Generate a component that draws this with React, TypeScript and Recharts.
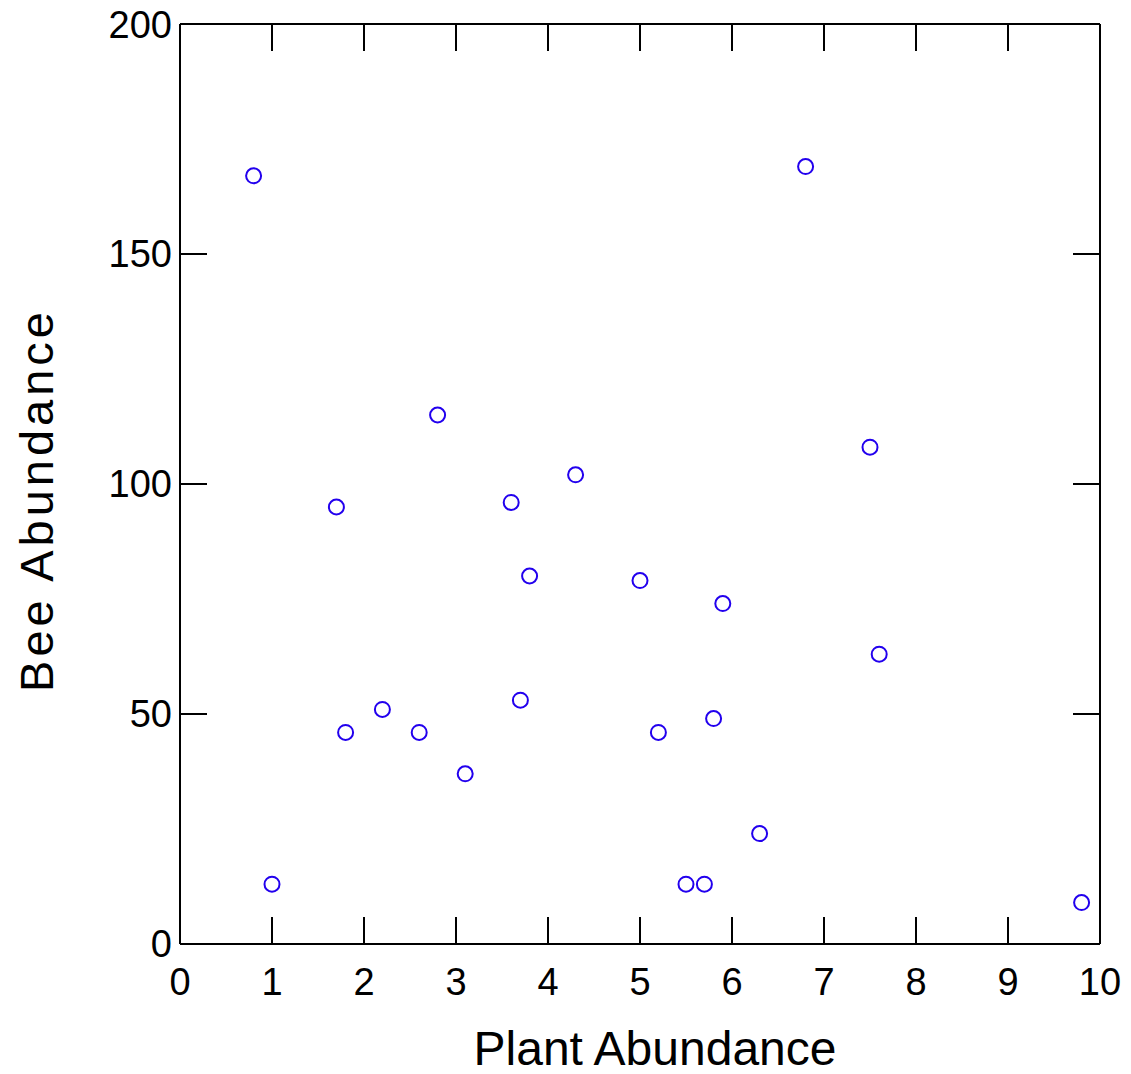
import React from 'react';
import { ScatterChart, Scatter, XAxis, YAxis, Label } from 'recharts';

const plantAbundance = [0.8, 1.0, 1.7, 1.8, 2.2, 2.6, 2.8, 3.1, 3.6, 3.7, 3.8, 4.3, 5.0, 5.2, 5.5, 5.7, 5.8, 5.9, 6.3, 6.8, 7.5, 7.6, 9.8];
const beeAbundance = [167, 13, 95, 46, 51, 46, 115, 37, 96, 53, 80, 102, 79, 46, 13, 13, 49, 74, 24, 169, 108, 63, 9];
const xTicks = [0, 1, 2, 3, 4, 5, 6, 7, 8, 9, 10];
const yTicks = [0, 50, 100, 150, 200];
const xTitle = 'Plant Abundance';
const yTitle = 'Bee Abundance';

const data = plantAbundance.map((x, i) => ({ x, y: beeAbundance[i] }));

const FONT = '"Liberation Sans", Arial, Helvetica, sans-serif';
const BLUE = '#2200ee';
const tickStyle = { fill: '#000', fontSize: 38, fontFamily: FONT };
const lineStyle = { stroke: '#000', strokeWidth: 2 };

const Marker = (props: any) => (
  <circle cx={props.cx} cy={props.cy} r={7.5} fill="none" stroke={BLUE} strokeWidth={2} />
);
const Empty = () => <g />;
const NoLabel = () => <g />;

export default function App() {
  return (
    <ScatterChart width={1115} height={1066} margin={{ top: 15, right: 22, bottom: 0, left: 0 }}>
      <XAxis
        xAxisId="bottom"
        type="number"
        dataKey="x"
        domain={[0, 10]}
        ticks={xTicks}
        interval={0}
        height={130}
        tickSize={-27}
        tickMargin={51}
        tick={tickStyle}
        axisLine={lineStyle}
        tickLine={lineStyle}
        allowDataOverflow
      >
        <Label
          content={(p: any) => {
            const vb = p.viewBox;
            return (
              <text x={vb.x + vb.width / 2 + 15} y={vb.y + 121} textAnchor="middle" fontSize={48} fontFamily={FONT} fill="#000">
                {xTitle}
              </text>
            );
          }}
        />
      </XAxis>
      <XAxis
        xAxisId="top"
        orientation="top"
        type="number"
        dataKey="x"
        domain={[0, 10]}
        ticks={xTicks}
        interval={0}
        height={1}
        tickSize={-27}
        tick={NoLabel}
        axisLine={lineStyle}
        tickLine={lineStyle}
        allowDataOverflow
      />
      <YAxis
        yAxisId="left"
        type="number"
        dataKey="y"
        domain={[0, 200]}
        ticks={yTicks}
        interval={0}
        width={172}
        tickSize={-27}
        tickMargin={35}
        tick={tickStyle}
        axisLine={lineStyle}
        tickLine={lineStyle}
        allowDataOverflow
      >
        <Label
          content={() => {
            const x0 = 45;
            const y0 = 492;
            return (
              <text x={x0} y={y0} transform={`rotate(-90, ${x0}, ${y0})`} textAnchor="middle" fontSize={47} letterSpacing={4} fontFamily={FONT} fill="#000">
                {yTitle}
              </text>
            );
          }}
        />
      </YAxis>
      <YAxis
        yAxisId="right"
        orientation="right"
        type="number"
        dataKey="y"
        domain={[0, 200]}
        ticks={yTicks}
        interval={0}
        width={1}
        tickSize={-27}
        tick={NoLabel}
        axisLine={lineStyle}
        tickLine={lineStyle}
        allowDataOverflow
      />
      <Scatter data={data} xAxisId="top" yAxisId="right" shape={Empty} isAnimationActive={false} />
      <Scatter data={data} xAxisId="bottom" yAxisId="left" shape={Marker} isAnimationActive={false} />
    </ScatterChart>
  );
}
